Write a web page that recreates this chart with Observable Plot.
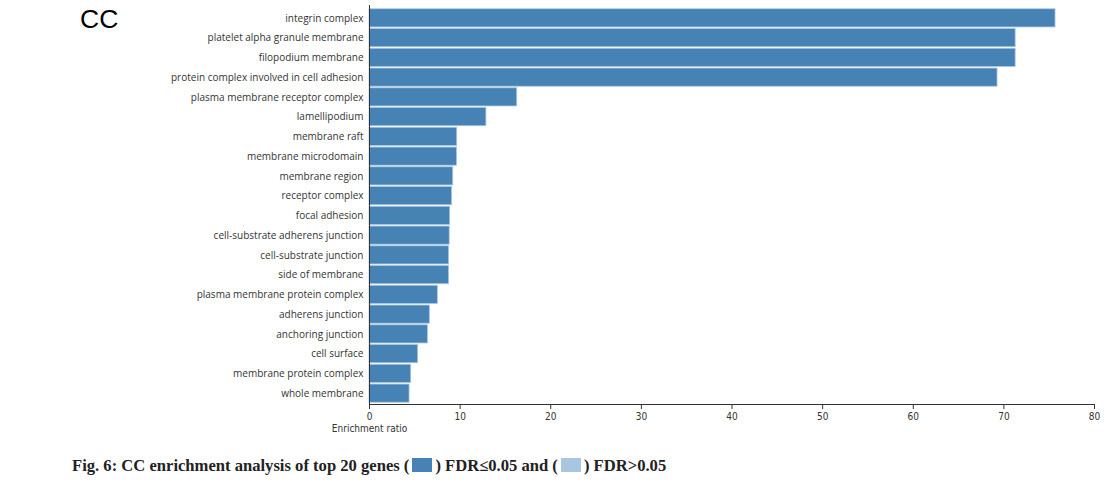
<!DOCTYPE html>
<html>
<head>
<meta charset="utf-8">
<script src="https://cdn.jsdelivr.net/npm/d3@7"></script>
<script src="https://cdn.jsdelivr.net/npm/@observablehq/plot@0.6"></script>
<style>
  html, body { margin: 0; padding: 0; background: #fff; }
  body { width: 1116px; height: 489px; position: relative; overflow: hidden; }
  #title { position: absolute; left: 80px; top: 4px; font: 26.5px "Liberation Sans", Arial, sans-serif; color: #000; }
  #chart { position: absolute; left: 0; top: 0; }
  #chart svg { display: block; }
  #caption { position: absolute; left: 72px; top: 456px; font: bold 16.6px "Liberation Serif", "Times New Roman", serif; color: #222; white-space: nowrap; }
  .box { display: inline-block; width: 20px; height: 14px; vertical-align: -1px; margin: 0 3px; }
</style>
</head>
<body>
<div id="chart"></div>
<div id="title">CC</div>
<div id="caption">Fig. 6: CC enrichment analysis of top 20 genes (<span class="box" style="background:#4682b4"></span>) FDR≤0.05 and (<span class="box" style="background:#a9c6e0"></span>) FDR&gt;0.05</div>
<script>
const categories = [
  "integrin complex",
  "platelet alpha granule membrane",
  "filopodium membrane",
  "protein complex involved in cell adhesion",
  "plasma membrane receptor complex",
  "lamellipodium",
  "membrane raft",
  "membrane microdomain",
  "membrane region",
  "receptor complex",
  "focal adhesion",
  "cell-substrate adherens junction",
  "cell-substrate junction",
  "side of membrane",
  "plasma membrane protein complex",
  "adherens junction",
  "anchoring junction",
  "cell surface",
  "membrane protein complex",
  "whole membrane"
];
const enrichmentRatio = [75.7, 71.3, 71.3, 69.3, 16.3, 12.9, 9.68, 9.66, 9.24, 9.12, 8.9, 8.85, 8.78, 8.78, 7.54, 6.66, 6.44, 5.37, 4.6, 4.42];
const xTicks = [0, 10, 20, 30, 40, 50, 60, 70, 80];
const xLabel = "Enrichment ratio";

const data = categories.map((c, i) => ({term: c, ratio: enrichmentRatio[i]}));
const narrow = "'DejaVu Sans Condensed', 'Liberation Sans Narrow', 'Open Sans', sans-serif";

const chart = Plot.plot({
  width: 1116,
  height: 440,
  marginLeft: 369,
  marginRight: 22,
  marginTop: 5,
  marginBottom: 36,
  style: {fontFamily: "'Open Sans', sans-serif", fontSize: "10px", color: "#333"},
  x: {domain: [0, 80], ticks: xTicks},
  y: {domain: categories, paddingInner: 0.08, paddingOuter: 0.04, range: [8, 403], round: false},
  marks: [
    Plot.barX(data, {x: "ratio", y: "term", fill: "#4682b4", stroke: "#a9c6e0", strokeWidth: 0.8}),
    Plot.axisY({tickSize: 0, tickPadding: 6, label: null, fontSize: 10, fill: "#333"}),
    Plot.axisX({ticks: xTicks, tickSize: 5, tickPadding: 3, label: null, fontSize: 10, fill: "#333", stroke: "#333", fontFamily: narrow}),
    Plot.frame({anchor: "left", stroke: "#333"}),
    Plot.frame({anchor: "bottom", stroke: "#333"}),
    Plot.text([xLabel], {x: 0, frameAnchor: "bottom", dy: 27, textAnchor: "middle", fill: "#333", fontSize: 10, fontFamily: narrow})
  ]
});
document.getElementById("chart").appendChild(chart);
</script>
</body>
</html>
